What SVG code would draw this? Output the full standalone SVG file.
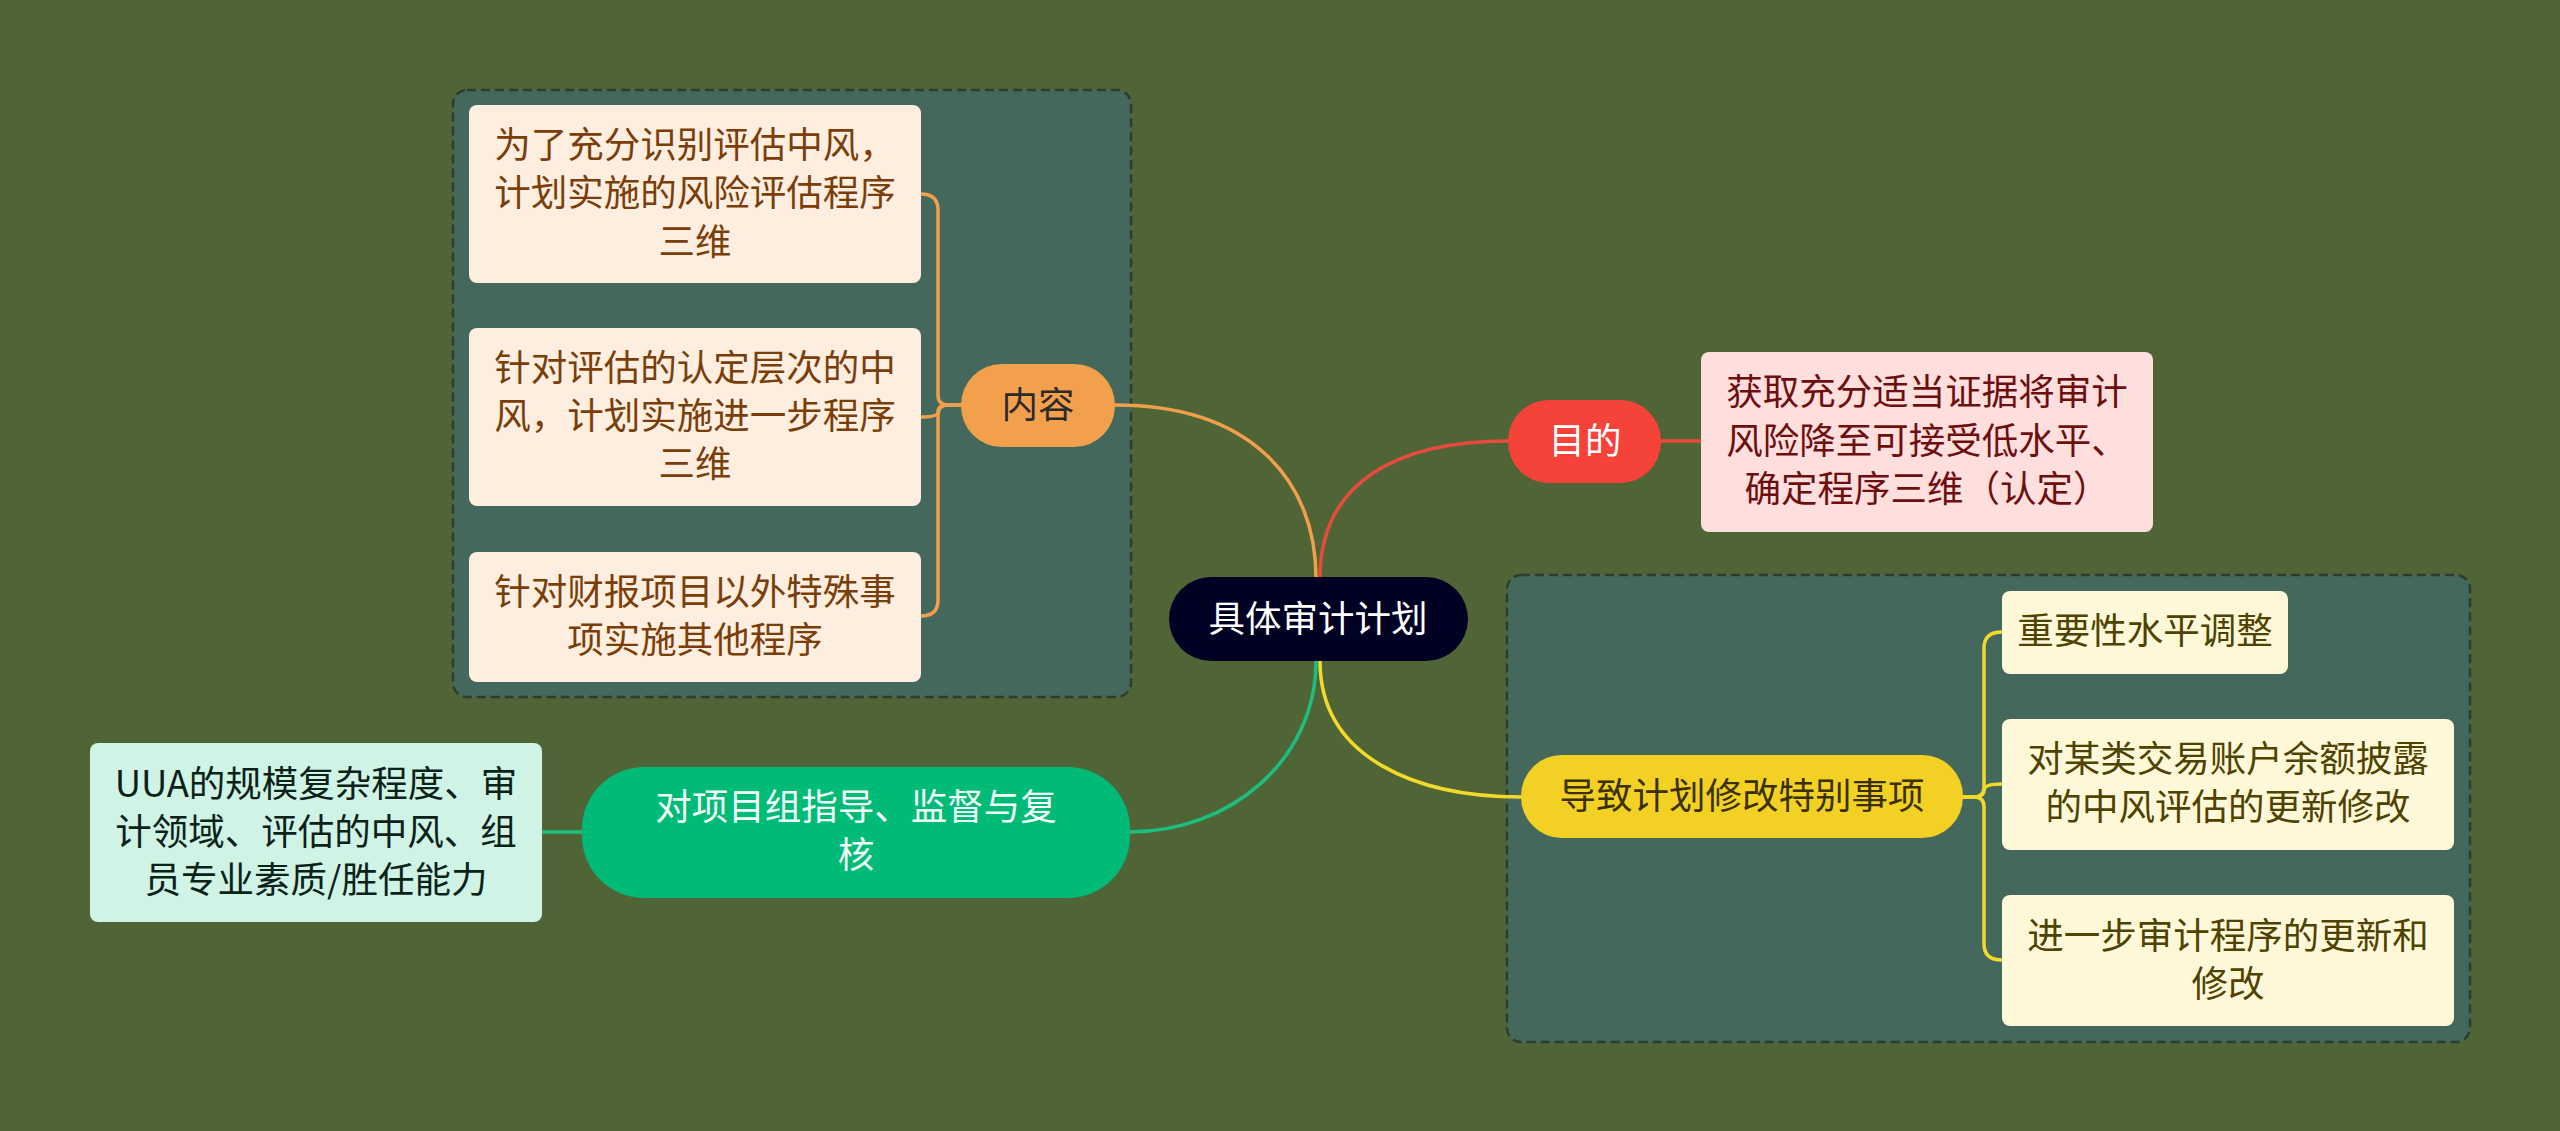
<svg xmlns="http://www.w3.org/2000/svg" width="2560" height="1131" viewBox="0 0 2560 1131">
<style>
text{font-family:"Noto Sans CJK SC","Noto Sans",sans-serif;font-size:36.5px;text-anchor:middle}
.box{stroke:#2E3B33;stroke-width:2.5;stroke-dasharray:9 5;fill:#45685C}
.c{fill:none;stroke-width:3.5;stroke-linecap:round}
.peach{fill:#FDEEDF}.tp{fill:#7A3E0A}
.cream{fill:#FFF8D8}.ty{fill:#4E4300}
</style>
<rect width="2560" height="1131" fill="#506535"/>
<rect class="box" x="453" y="90" width="678" height="607" rx="14"/>
<rect class="box" x="1507" y="575" width="963" height="467" rx="14"/>
<g id="connectors">
<path class="c" stroke="#F0A04B" d="M1115 405 C1250 405 1316 480 1316 578"/>
<path class="c" stroke="#E84B3C" d="M1320 578 C1320 480 1400 441 1508 441"/>
<path class="c" stroke="#F2DA2A" d="M1320 661 C1320 760 1420 797 1521 797"/>
<path class="c" stroke="#1DBF80" d="M1316 661 C1316 760 1230 832 1130 832"/>
<path class="c" stroke="#E84B3C" d="M1661 441 H1701"/>
<path class="c" stroke="#1DBF80" d="M582 832 H542"/>
<path class="c" stroke="#F0A04B" d="M961 405 H948 Q938 405 938 395 V210 Q938 194 921 194"/>
<path class="c" stroke="#F0A04B" d="M961 405 H948 Q938 405 938 412 Q938 417 921 417"/>
<path class="c" stroke="#F0A04B" d="M961 405 H948 Q938 405 938 415 V600 Q938 616 921 616"/>
<path class="c" stroke="#F2DA2A" d="M1963 797 H1974 Q1984 797 1984 787 V648 Q1984 632 2002 632"/>
<path class="c" stroke="#F2DA2A" d="M1963 797 H1974 Q1984 797 1984 790 Q1984 784 2002 784"/>
<path class="c" stroke="#F2DA2A" d="M1963 797 H1974 Q1984 797 1984 807 V944 Q1984 960 2002 960"/>
</g>
<g id="center">
<rect x="1169" y="577" width="299" height="84" rx="42" fill="#000223"/>
<text x="1318" y="632" fill="#fff">具体审计计划</text>
</g>
<g id="n-neirong">
<rect x="961" y="364" width="154" height="83" rx="41" fill="#F3A04D"/>
<text x="1038" y="418" fill="#2a2a2a">内容</text>
</g>
<g id="n-c1">
<rect class="peach" x="469" y="105" width="452" height="178" rx="8"/>
<text class="tp" x="695" y="158">为了充分识别评估中风，</text>
<text class="tp" x="695" y="206">计划实施的风险评估程序</text>
<text class="tp" x="695" y="255">三维</text>
</g>
<g id="n-c2">
<rect class="peach" x="469" y="328" width="452" height="178" rx="8"/>
<text class="tp" x="695" y="381">针对评估的认定层次的中</text>
<text class="tp" x="695" y="429">风，计划实施进一步程序</text>
<text class="tp" x="695" y="477">三维</text>
</g>
<g id="n-c3">
<rect class="peach" x="469" y="552" width="452" height="130" rx="8"/>
<text class="tp" x="695" y="605">针对财报项目以外特殊事</text>
<text class="tp" x="695" y="653">项实施其他程序</text>
</g>
<g id="n-mudi">
<rect x="1508" y="400" width="153" height="83" rx="41" fill="#F5433A"/>
<text x="1585" y="454" fill="#fff">目的</text>
</g>
<g id="n-mudi-c">
<rect x="1701" y="352" width="452" height="180" rx="8" fill="#FFDEDE"/>
<text x="1927" y="405" fill="#6E0F0F">获取充分适当证据将审计</text>
<text x="1927" y="454" fill="#6E0F0F">风险降至可接受低水平、</text>
<text x="1927" y="502" fill="#6E0F0F">确定程序三维（认定）</text>
</g>
<g id="n-daozhi">
<rect x="1521" y="755" width="442" height="83" rx="41" fill="#F2D124"/>
<text x="1742" y="809" fill="#3A3000">导致计划修改特别事项</text>
</g>
<g id="n-y1">
<rect class="cream" x="2002" y="591" width="286" height="83" rx="8"/>
<text class="ty" x="2145" y="644">重要性水平调整</text>
</g>
<g id="n-y2">
<rect class="cream" x="2002" y="719" width="452" height="131" rx="8"/>
<text class="ty" x="2228" y="772">对某类交易账户余额披露</text>
<text class="ty" x="2228" y="820">的中风评估的更新修改</text>
</g>
<g id="n-y3">
<rect class="cream" x="2002" y="895" width="452" height="131" rx="8"/>
<text class="ty" x="2228" y="949">进一步审计程序的更新和</text>
<text class="ty" x="2228" y="997">修改</text>
</g>
<g id="n-zhidao">
<rect x="582" y="767" width="548" height="131" rx="62" fill="#00BA77"/>
<text x="856" y="820" fill="#F2FFF8">对项目组指导、监督与复</text>
<text x="856" y="868" fill="#F2FFF8">核</text>
</g>
<g id="n-uua">
<rect x="90" y="743" width="452" height="179" rx="8" fill="#CFF3E5"/>
<text x="316" y="797" fill="#0B2219">UUA的规模复杂程度、审</text>
<text x="316" y="845" fill="#0B2219">计领域、评估的中风、组</text>
<text x="316" y="893" fill="#0B2219">员专业素质/胜任能力</text>
</g>
</svg>
